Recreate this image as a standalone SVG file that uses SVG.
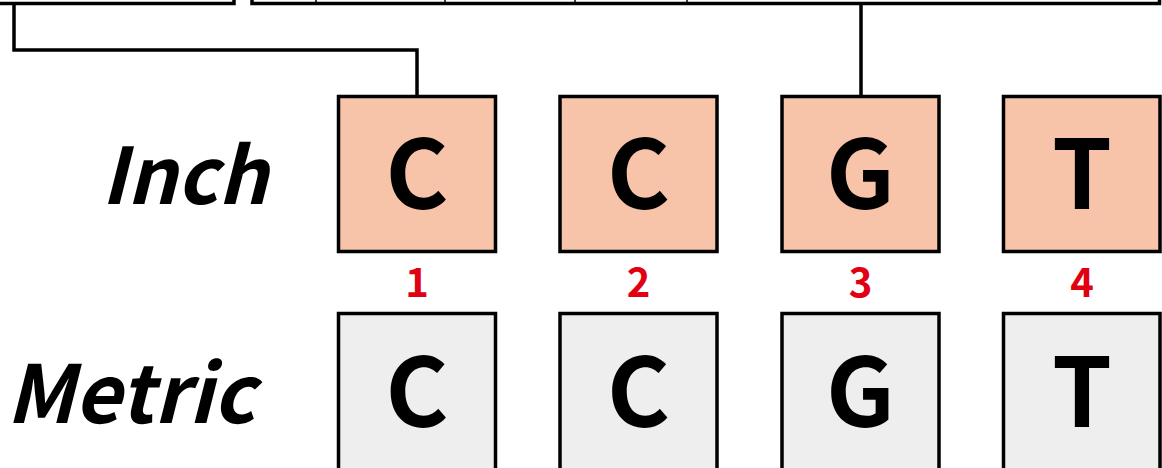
<svg xmlns="http://www.w3.org/2000/svg" width="1162" height="468" viewBox="0 0 1162 468">
<style>
.frame{fill:none;stroke:#000;stroke-width:3.5}
.div{stroke:#000;stroke-width:1.5}
.conn{fill:none;stroke:#000;stroke-width:3.5}
.inch{fill:#F7C4A9;stroke:#000;stroke-width:3.5}
.metric{fill:#EEEEEE;stroke:#000;stroke-width:3.5}
.letter{font-family:"Noto Sans CJK SC","Noto Sans",sans-serif;font-weight:700;font-size:96px;text-anchor:middle;fill:#000}
.num{font-family:"Noto Sans CJK SC","Noto Sans",sans-serif;font-weight:700;font-size:40px;text-anchor:middle;fill:#E00012}
.label{font-family:"Noto Sans CJK SC","Noto Sans",sans-serif;font-weight:700;font-style:italic;fill:#000}
</style>
<rect width="1162" height="468" fill="#fff"/>
<g id="top-left-box"><path class="frame" d="M-5 3.5 H234 V-5"/></g>
<g id="top-right-box">
<path class="frame" d="M252 -5 V3.5 H1159.5 V-5"/>
<line class="div" x1="316" y1="-2" x2="316" y2="3"/>
<line class="div" x1="445" y1="-2" x2="445" y2="3"/>
<line class="div" x1="575" y1="-2" x2="575" y2="3"/>
<line class="div" x1="687" y1="-2" x2="687" y2="3"/>
</g>
<g id="connectors">
<path class="conn" d="M14 4 V50 H417 V96"/>
<path class="conn" d="M861 4 V96"/>
</g>
<g id="label-inch"><text class="label" x="101" y="204" font-size="78">Inch</text></g>
<g id="label-metric"><text class="label" x="6" y="423" font-size="80">Metric</text></g>
<g id="inch-1"><rect class="inch" x="338.5" y="96.5" width="157" height="155"/><text class="letter" x="417" y="209">C</text></g>
<g id="inch-2"><rect class="inch" x="560" y="96.5" width="157" height="155"/><text class="letter" x="638.5" y="209">C</text></g>
<g id="inch-3"><rect class="inch" x="782" y="96.5" width="157" height="155"/><text class="letter" x="860.5" y="209">G</text></g>
<g id="inch-4"><rect class="inch" x="1003.5" y="96.5" width="156.5" height="155"/><text class="letter" x="1082" y="209">T</text></g>
<g id="num-1"><text class="num" x="417" y="297">1</text></g>
<g id="num-2"><text class="num" x="638.5" y="297">2</text></g>
<g id="num-3"><text class="num" x="860.5" y="297">3</text></g>
<g id="num-4"><text class="num" x="1082" y="297">4</text></g>
<g id="metric-1"><rect class="metric" x="338.5" y="313.5" width="157" height="170"/><text class="letter" x="417" y="427">C</text></g>
<g id="metric-2"><rect class="metric" x="560" y="313.5" width="157" height="170"/><text class="letter" x="638.5" y="427">C</text></g>
<g id="metric-3"><rect class="metric" x="782" y="313.5" width="157" height="170"/><text class="letter" x="860.5" y="427">G</text></g>
<g id="metric-4"><rect class="metric" x="1003.5" y="313.5" width="156.5" height="170"/><text class="letter" x="1082" y="427">T</text></g>
</svg>
